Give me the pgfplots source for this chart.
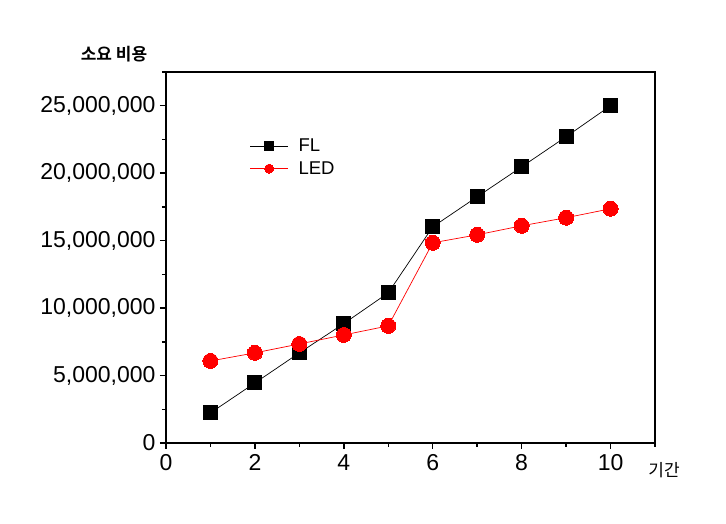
\documentclass[border=0pt]{standalone}
\usepackage{pgfplots}
\pgfplotsset{compat=1.18}
\usepackage{fontspec}
\setmainfont{Liberation Sans}
\newfontfamily\kr{Noto Sans CJK KR}[BoldFont={Noto Sans CJK KR Bold}]
\definecolor{ledred}{HTML}{FF0000}

\begin{document}
\begin{tikzpicture}[x=1pt,y=1pt]
\path[use as bounding box] (0,0) rectangle (726,524);
\begin{axis}[
  at={(166pt,81pt)}, anchor=south west,
  scale only axis, width=489pt, height=371pt,
  xmin=0, xmax=11, ymin=0, ymax=27500000,
  axis line style={line width=1.6pt},
  xtick pos=bottom, ytick pos=left,
  xtick={0,2,...,10}, minor xtick={1,3,...,11},
  ytick={0,5000000,...,25000000},
  minor ytick={2500000,7500000,...,27500000},
  tick align=outside,
  major tick length=6pt, minor tick length=4pt,
  every tick/.style={black, line width=1.4pt},
  scaled y ticks=false,
  /pgf/number format/assume math mode=true,
  yticklabel={\pgfmathprintnumber[fixed, 1000 sep={,}]{\tick}},
  ticklabel style={font=\fontsize{23}{26}\selectfont},
  xticklabel style={yshift=-2pt},
  yticklabel style={xshift=-1pt},
  clip=false,
  legend style={at={(0.165,0.83)}, anchor=north west, draw=none, fill=none,
    font=\fontsize{18.5}{21}\selectfont, row sep=4pt,
    /tikz/every odd column/.append style={column sep=8pt}},
  legend cell align=left,
  legend image code/.code={
    \draw[#1, mark=none] (0pt,0pt) -- (14pt,0pt) (24pt,0pt) -- (38pt,0pt);
    \path[#1, only marks, mark size=4.5pt] plot coordinates {(19pt,0pt)};
  },
]
\addplot[black, line width=0.7pt, mark=square*, mark size=7pt,
  mark options={solid, line width=0pt}]
  coordinates {(1,2230000) (2,4450000) (3,6680000) (4,8850000) (5,11130000)
               (6,16020000) (7,18250000) (8,20470000) (9,22700000) (10,25000000)};
\addplot[ledred, line width=0.7pt, mark=*, mark size=7.5pt,
  mark options={solid, line width=0pt}]
  coordinates {(1,6080000) (2,6680000) (3,7340000) (4,8010000) (5,8680000)
               (6,14840000) (7,15430000) (8,16100000) (9,16700000) (10,17360000)};
\legend{FL, LED}
\end{axis}
\node[font=\kr\bfseries\fontsize{17}{20}\selectfont] at (114,470) {소요 비용};
\node[font=\kr\fontsize{17}{20}\selectfont] at (664,54) {기간};
\end{tikzpicture}
\end{document}
